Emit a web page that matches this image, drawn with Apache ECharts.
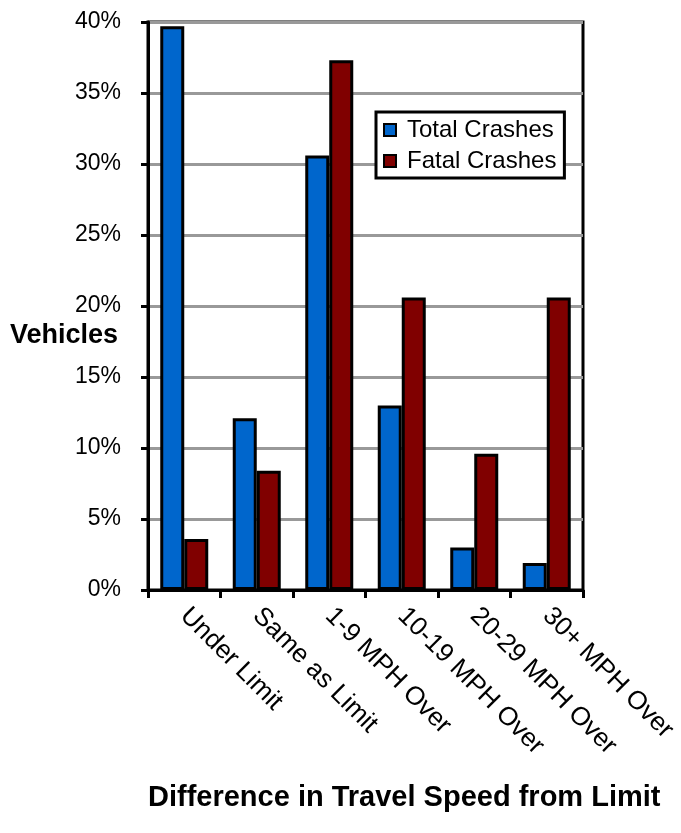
<!DOCTYPE html>
<html>
<head>
<meta charset="utf-8">
<script src="https://cdn.jsdelivr.net/npm/echarts@6/dist/echarts.min.js"></script>
<style>
html,body{margin:0;padding:0;background:#fff;}
#chart{width:681px;height:833px;}
</style>
</head>
<body>
<div id="chart"></div>
<script>
var categories = ['Under Limit', 'Same as Limit', '1-9 MPH Over', '10-19 MPH Over', '20-29 MPH Over', '30+ MPH Over'];
var totalCrashes = [39.7, 12.1, 30.6, 13.0, 3.0, 1.9];
var fatalCrashes = [3.6, 8.4, 37.3, 20.6, 9.6, 20.6];
var seriesNames = ['Total Crashes', 'Fatal Crashes'];
var yTicks = { min: 0, max: 40, interval: 5 };
var yTitle = 'Vehicles';
var xTitle = 'Difference in Travel Speed from Limit';

var FONT = 'Liberation Sans, Arial, sans-serif';
var chart = echarts.init(document.getElementById('chart'), null, { renderer: 'canvas' });
chart.setOption({
  animation: false,
  backgroundColor: '#fff',
  textStyle: { fontFamily: FONT },
  grid: {
    left: 148, right: 98, top: 22, bottom: 243,
    show: true, borderColor: '#000', borderWidth: 3, backgroundColor: 'transparent'
  },
  legend: {
    orient: 'vertical',
    left: 376, top: 112,
    data: seriesNames,
    icon: 'rect',
    itemWidth: 12, itemHeight: 12,
    itemGap: 7,
    padding: [6, 8, 5, 7],
    backgroundColor: '#fff',
    borderColor: '#000',
    borderWidth: 3,
    itemStyle: { borderColor: '#000', borderWidth: 2 },
    textStyle: { fontSize: 24, color: '#000', fontFamily: FONT, padding: [0, 0, 0, 6] }
  },
  xAxis: {
    type: 'category',
    data: categories,
    boundaryGap: true,
    axisLine: { show: true, lineStyle: { color: '#000', width: 3 } },
    axisTick: { show: true, inside: false, length: 8, lineStyle: { color: '#000', width: 3 } },
    axisLabel: { rotate: -45, fontSize: 26, color: '#000', margin: 22, interval: 0, fontFamily: FONT },
    splitLine: { show: false }
  },
  yAxis: {
    type: 'value',
    min: yTicks.min, max: yTicks.max, interval: yTicks.interval,
    axisLine: { show: true, lineStyle: { color: '#000', width: 3 } },
    axisTick: { show: true, inside: false, length: 7, lineStyle: { color: '#000', width: 3 } },
    axisLabel: { formatter: '{value}%', fontSize: 23, color: '#000', margin: 27, fontFamily: FONT },
    splitLine: { show: true, lineStyle: { color: '#999', width: 3 } }
  },
  graphic: [
    {
      type: 'text', left: 10, top: 322,
      style: { text: yTitle, font: 'bold 27px ' + FONT, fill: '#000' }
    },
    {
      type: 'text', left: 148, top: 783,
      style: { text: xTitle, font: 'bold 29px ' + FONT, fill: '#000' }
    }
  ],
  series: [
    {
      name: seriesNames[0], type: 'bar', data: totalCrashes,
      barWidth: 24, barGap: '0%',
      itemStyle: { color: '#0066CC', borderColor: '#000', borderWidth: 3 }
    },
    {
      name: seriesNames[1], type: 'bar', data: fatalCrashes,
      barWidth: 24, barGap: '0%',
      itemStyle: { color: '#800000', borderColor: '#000', borderWidth: 3 }
    }
  ]
});
</script>
</body>
</html>
